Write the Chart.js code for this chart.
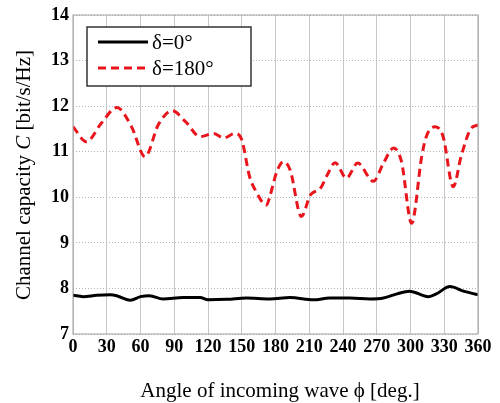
<!DOCTYPE html>
<html>
<head>
<meta charset="utf-8">
<script src="https://cdn.jsdelivr.net/npm/chart.js@4"></script>
<style>
  html, body { margin: 0; padding: 0; background: #fff; }
  #wrap { width: 500px; height: 403px; position: relative; }
</style>
</head>
<body>
<div id="wrap"><canvas id="myChart"></canvas></div>
<script>
// data
let angles0 = [0, 9, 21, 33, 40, 51, 60, 68, 80, 98, 113, 120, 137, 154, 175, 193, 214, 228, 246, 264, 276, 288, 299, 316, 323, 335, 347, 360];
let cap0 = [7.85, 7.82, 7.85, 7.86, 7.83, 7.74, 7.82, 7.84, 7.77, 7.80, 7.80, 7.75, 7.76, 7.79, 7.77, 7.80, 7.75, 7.79, 7.79, 7.77, 7.79, 7.88, 7.94, 7.82, 7.88, 8.04, 7.94, 7.86];

let angles180 = [0, 12, 25, 39, 52, 64, 76, 88, 100, 113, 125, 134, 144, 150, 157, 162, 172, 175, 181, 187, 193, 203, 211, 220, 226, 233, 243, 253, 267, 276, 285, 292, 301, 310, 314, 322, 329, 338, 345, 353, 360];
let cap180 = [11.55, 11.22, 11.62, 11.97, 11.55, 10.89, 11.6, 11.9, 11.66, 11.33, 11.4, 11.3, 11.4, 11.26, 10.45, 10.16, 9.83, 10.02, 10.55, 10.78, 10.6, 9.58, 10.05, 10.2, 10.49, 10.76, 10.42, 10.75, 10.35, 10.75, 11.08, 10.78, 9.43, 10.9, 11.33, 11.55, 11.33, 10.23, 10.9, 11.48, 11.59];

let xTicks = [0, 30, 60, 90, 120, 150, 180, 210, 240, 270, 300, 330, 360];
let yTicks = [7, 8, 9, 10, 11, 12, 13, 14];

let seriesNames = ["δ=0°", "δ=180°"];

const serif = "'Liberation Serif', 'Times New Roman', serif";

function toPoints(xs, ys) {
  return xs.map((x, i) => ({ x: x, y: ys[i] }));
}

// draws a line of text made of parts with their own font
function drawParts(ctx, parts, x, y) {
  let total = 0;
  parts.forEach(p => { ctx.font = p.font; total += ctx.measureText(p.text).width; });
  let cx = x - total / 2;
  parts.forEach(p => {
    ctx.font = p.font;
    ctx.fillText(p.text, cx, y);
    cx += ctx.measureText(p.text).width;
  });
}

const extras = {
  id: 'extras',
  afterDraw(chart) {
    const ctx = chart.ctx;
    const area = chart.chartArea;
    ctx.save();
    ctx.fillStyle = '#000';
    ctx.textBaseline = 'middle';
    ctx.textAlign = 'left';

    // x title
    drawParts(ctx, [{ text: 'Angle of incoming wave ϕ [deg.]', font: '21px ' + serif }], 280, 391);

    // y title with italic C
    ctx.save();
    ctx.translate(24, 175);
    ctx.rotate(-Math.PI / 2);
    drawParts(ctx, [
      { text: 'Channel capacity ', font: '21px ' + serif },
      { text: 'C', font: 'italic 21px ' + serif },
      { text: ' [bit/s/Hz]', font: '21px ' + serif }
    ], 0, 0);
    ctx.restore();

    // legend box
    const lx = 87, ly = 27, lw = 164, lh = 59;
    ctx.fillStyle = '#fff';
    ctx.fillRect(lx, ly, lw, lh);
    ctx.strokeStyle = '#333';
    ctx.lineWidth = 1.5;
    ctx.strokeRect(lx, ly, lw, lh);

    chart.data.datasets.forEach((ds, i) => {
      const yy = 42 + i * 26;
      ctx.beginPath();
      ctx.strokeStyle = ds.borderColor;
      ctx.lineWidth = ds.borderWidth;
      ctx.setLineDash(ds.borderDash || []);
      ctx.moveTo(98, yy);
      ctx.lineTo(148, yy);
      ctx.stroke();
      ctx.setLineDash([]);
      ctx.fillStyle = '#000';
      ctx.font = '21px ' + serif;
      ctx.fillText(ds.label, 152, yy + 1);
    });

    // plot frame
    ctx.strokeStyle = '#a0a0a0';
    ctx.lineWidth = 1;
    ctx.strokeRect(area.left, area.top, area.right - area.left, area.bottom - area.top);
    ctx.restore();
  }
};

const ctx = document.getElementById('myChart').getContext('2d');

let chart = new Chart(ctx, {
  type: 'line',
  data: {
    datasets: [
      {
        label: seriesNames[0],
        data: toPoints(angles0, cap0),
        borderColor: '#000000',
        borderWidth: 3,
        pointRadius: 0,
        cubicInterpolationMode: 'monotone'
      },
      {
        label: seriesNames[1],
        data: toPoints(angles180, cap180),
        borderColor: '#e8161c',
        borderWidth: 3,
        borderDash: [8, 5],
        pointRadius: 0,
        cubicInterpolationMode: 'monotone'
      }
    ]
  },
  options: {
    responsive: true,
    maintainAspectRatio: false,
    animation: false,
    layout: { padding: { left: 0, top: 15, right: 22, bottom: 0 } },
    plugins: {
      legend: { display: false },
      tooltip: { enabled: false }
    },
    scales: {
      x: {
        type: 'linear',
        min: 0,
        max: 360,
        afterBuildTicks: axis => { axis.ticks = xTicks.map(v => ({ value: v })); },
        afterFit: axis => { axis.height = 69; },
        ticks: {
          color: '#000',
          font: { family: serif, size: 18, weight: 'bold' },
          padding: 3,
          maxRotation: 0,
          autoSkip: false
        },
        grid: {
          color: '#c8c8c8',
          lineWidth: 1,
          drawTicks: false
        },
        border: { display: false }
      },
      y: {
        min: 7,
        max: 14,
        afterBuildTicks: axis => { axis.ticks = yTicks.map(v => ({ value: v })); },
        afterFit: axis => { axis.width = 73; },
        ticks: {
          color: '#000',
          font: { family: serif, size: 18, weight: 'bold' },
          padding: 4
        },
        grid: {
          color: '#b4b4b4',
          lineWidth: 1,
          drawTicks: false
        },
        border: { display: false, dash: [1, 2] }
      }
    }
  },
  plugins: [extras]
});
</script>
</body>
</html>
